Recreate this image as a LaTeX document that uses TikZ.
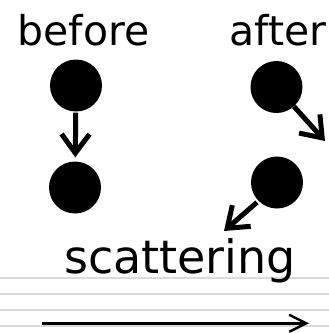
\documentclass[tikz,border=0pt]{standalone}
\usepackage{fontspec}
\setmainfont{DejaVu Sans}
\usetikzlibrary{arrows.meta}
\definecolor{rulegray}{HTML}{DADADA}
\tikzset{
  ball/.style={circle, fill=black, minimum size=52pt, inner sep=0pt},
  label/.style={inner sep=0pt, anchor=base},
  bigarrow/.style={line width=5pt, -{Straight Barb[length=19pt, width=28pt]}},
  thinarrow/.style={line width=2.5pt, -{Straight Barb[length=17pt, width=17pt]}},
  rule/.style={rulegray, line width=2pt}
}
\begin{document}
\begin{tikzpicture}[x=1pt, y=-1pt]
\useasboundingbox (0,0) rectangle (329,333);
% ruled lines
\foreach \yy in {278.3, 294, 309.5, 325.5} {
  \draw[rule] (0,\yy) -- (329,\yy);
}
% texts
\node[label, font=\fontsize{41}{41}\selectfont] (tbefore) at (83.5,45) {before};
\node[label, font=\fontsize{41}{41}\selectfont] (tafter) at (278,45) {after};
\node[label, font=\fontsize{46}{46}\selectfont] (tscat) at (180,273) {scattering};
% balls
\node[ball] (b1) at (76,85.5) {};
\node[ball] (b2) at (75,187.5) {};
\node[ball] (a1) at (276.5,87) {};
\node[ball] (a2) at (277,182.5) {};
% arrows
\coordinate (aout) at (325,141);
\coordinate (sout) at (224,231);
\coordinate (l0) at (42,323.3);
\coordinate (l1) at (309,323.3);
\draw[bigarrow, shorten <=1pt, shorten >=4pt] (b1) -- (b2);
\draw[bigarrow] (a1.-45) ++(-1,1) -- (aout);
\draw[bigarrow, shorten <=2pt] (a2.-135) -- (sout);
\draw[thinarrow] (l0) -- (l1);
\end{tikzpicture}
\end{document}
